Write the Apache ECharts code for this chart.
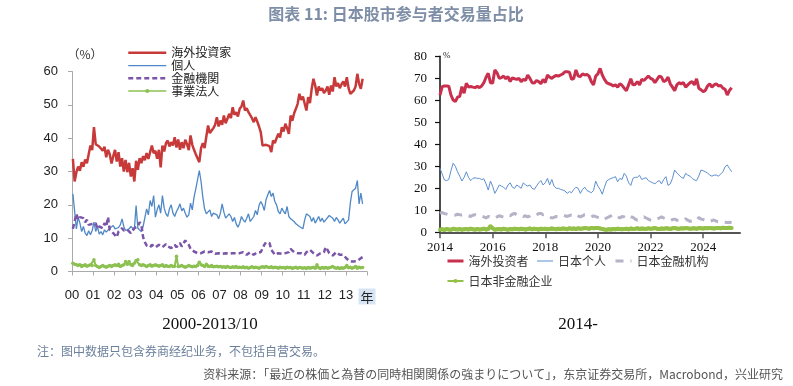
<!DOCTYPE html>
<html><head><meta charset="utf-8">
<script src="https://cdn.jsdelivr.net/npm/echarts@6/dist/echarts.min.js"></script>
<style>html,body{margin:0;padding:0;background:#fff}#c{width:793px;height:386px}</style>
</head><body><div id="c"></div>
<script>
// ---------- Left panel: 2000/01 - 2013/10, monthly ----------
var leftStartYear = 2000;
var leftYearTicks = [2000,2001,2002,2003,2004,2005,2006,2007,2008,2009,2010,2011,2012,2013,2014];
var leftNames = ['海外投資家','個人','金融機関','事業法人'];
var leftForeign = [
33.8,27.0,29.8,31.5,30.2,32.8,31.4,33.6,32.5,35.2,37.8,36.4,
43.3,38.2,38.6,37.5,38.0,36.2,37.4,34.3,36.5,35.2,32.4,34.6,
36.5,33.0,35.8,31.5,34.0,30.0,33.5,29.8,32.6,28.5,31.0,27.0,
33.2,30.5,34.0,32.5,34.6,33.4,35.5,33.8,35.8,37.8,35.5,36.2,
33.8,36.5,31.2,37.8,36.0,38.5,39.3,37.5,38.8,37.8,40.3,37.2,
39.6,36.5,38.8,37.0,39.5,38.2,36.4,40.8,38.0,36.5,35.2,34.0,
32.8,37.0,38.5,37.0,40.5,43.8,41.5,42.3,43.0,44.0,46.3,43.5,
45.3,44.0,46.8,44.5,45.8,47.3,46.0,49.3,47.0,47.8,46.5,48.8,
49.5,51.3,48.3,49.0,47.8,48.2,46.0,44.8,46.3,45.0,43.5,41.8,
37.8,37.5,38.0,37.4,37.6,35.8,39.3,38.5,40.0,41.3,40.2,43.3,
42.0,44.3,43.0,41.3,46.8,45.2,47.5,48.8,50.3,53.3,51.5,52.5,
52.0,48.3,52.3,50.5,54.8,57.8,55.8,52.8,55.5,54.3,55.0,53.5,
54.3,55.5,53.0,55.8,54.0,58.3,55.5,56.5,55.0,56.2,57.0,55.5,
58.3,55.0,53.3,52.8,54.3,55.5,59.3,56.3,54.8,57.8];
var leftIndividual = [
23.3,22.8,12.8,16.3,14.5,12.0,13.5,11.5,10.8,12.2,11.0,12.3,
14.8,12.0,13.5,11.2,12.0,11.0,12.5,11.8,12.2,13.0,12.5,13.8,
12.8,12.5,13.2,14.0,15.8,13.5,12.3,11.8,12.8,13.5,14.0,12.5,
19.8,13.0,12.8,12.0,13.5,14.0,18.8,17.0,21.3,19.5,22.8,16.3,
18.5,20.0,17.5,22.8,19.0,17.3,16.5,18.8,20.0,17.5,16.5,18.0,
19.0,20.3,18.2,19.0,17.5,16.3,17.0,20.5,18.5,22.3,24.8,25.0,
30.3,27.0,22.3,18.8,17.3,17.8,18.5,16.5,17.5,18.0,17.0,15.8,
17.5,20.3,17.8,16.0,15.5,17.3,16.5,15.0,16.2,14.3,13.3,14.5,
16.5,15.5,14.8,16.0,17.3,15.0,14.5,16.5,18.3,17.0,19.8,21.0,
20.0,18.3,21.5,23.0,24.3,22.5,23.5,21.0,20.0,18.0,17.3,19.0,
18.0,17.3,19.5,16.5,15.8,16.2,15.0,14.3,14.8,13.5,14.0,12.8,
15.5,17.3,17.0,16.5,15.0,16.2,14.5,14.0,16.5,15.0,16.0,14.8,
15.5,16.0,16.8,17.3,16.0,15.0,16.2,15.5,14.5,15.0,16.0,14.3,
14.3,15.5,20.5,24.0,23.5,25.0,27.3,20.3,23.5,20.3];
var leftFinancial = [
12.8,13.0,17.3,15.5,16.3,15.8,16.0,14.8,15.5,14.0,13.8,14.3,
13.8,14.5,12.8,13.5,14.0,13.0,14.5,13.5,16.3,12.5,12.0,11.5,
11.8,10.3,12.0,12.5,13.0,12.3,11.8,12.5,12.0,11.5,12.3,13.0,
12.5,13.5,14.8,14.0,10.3,8.8,7.8,7.5,7.3,8.0,7.5,7.2,
7.0,8.0,7.8,7.3,7.0,8.2,7.5,7.8,7.0,7.5,8.0,7.3,
7.8,8.5,7.5,8.0,9.3,9.0,8.0,6.8,6.5,6.0,5.8,5.5,
5.8,5.5,5.3,6.0,6.3,5.8,5.5,6.0,5.5,5.3,5.0,5.5,
5.8,5.3,5.0,5.5,5.0,5.3,5.8,5.5,5.0,5.5,6.0,5.5,
5.3,5.8,5.5,5.0,5.3,5.8,5.5,5.0,5.5,5.8,6.0,5.8,
5.5,8.0,8.8,9.0,8.5,6.5,5.8,5.0,5.3,5.5,5.8,5.3,
5.0,5.5,6.0,5.8,6.8,6.5,5.8,5.3,5.5,5.0,5.5,5.3,
5.0,5.8,6.0,6.5,6.0,5.5,5.0,4.8,5.0,5.5,6.0,5.8,
7.3,6.5,5.5,5.0,4.8,5.3,5.8,5.5,5.0,5.3,5.0,4.5,
3.8,3.5,3.0,2.8,3.0,2.8,3.2,3.5,4.0,4.3];
var leftCorporate = [
2.5,2.2,2.0,1.8,2.0,1.5,1.8,2.0,1.6,1.8,2.0,1.8,
3.5,1.8,1.5,1.2,1.5,1.8,1.5,1.3,1.6,1.8,1.5,1.8,
2.0,1.8,2.2,1.5,1.8,2.0,3.0,2.2,3.0,2.0,1.8,2.5,
3.3,3.5,2.0,1.8,2.0,1.8,1.5,1.8,2.0,1.6,1.8,2.0,
1.8,1.6,1.8,2.0,1.5,1.8,1.6,1.5,1.8,1.5,1.6,4.6,
1.5,1.6,1.8,1.5,1.3,1.5,1.8,1.6,1.4,1.6,1.5,1.8,
2.8,2.0,1.8,1.5,2.2,1.6,1.5,1.8,1.4,1.5,1.6,1.4,
1.5,1.3,1.4,1.2,1.5,1.3,1.2,1.4,1.3,1.5,1.2,1.3,
1.2,1.4,1.1,1.3,1.0,1.2,1.4,1.1,1.3,1.2,1.0,1.3,
1.4,1.2,1.5,1.3,1.2,1.4,1.1,1.3,1.2,1.0,1.3,1.1,
1.2,1.0,1.3,1.1,1.2,0.9,1.1,1.3,1.0,1.2,1.1,1.0,
1.1,0.9,1.2,1.0,1.1,1.3,1.0,2.0,1.1,0.9,1.2,1.0,
1.2,1.0,1.1,1.3,1.5,1.1,1.0,1.2,0.9,1.1,1.0,1.2,
1.8,1.1,1.3,1.0,1.2,1.5,1.0,1.3,1.1,1.2];

// ---------- Right panel: 2014/01 - 2025/02, monthly ----------
var rightStartYear = 2014;
var rightYearTicks = [2014,2016,2018,2020,2022,2024];
var rightNames = ['海外投资者','日本个人','日本金融机构','日本非金融企业'];
var rightForeign = [
62.4,66.2,66.5,66.5,66.4,62.4,60.1,59.4,61.4,61.8,66.2,63.2,
67.7,66.0,66.3,66.0,65.8,66.3,65.8,66.5,68.0,70.5,72.3,68.0,
67.8,73.8,72.5,70.0,70.3,71.0,69.8,70.8,68.5,70.2,69.8,69.5,
70.0,68.5,69.5,69.0,71.5,70.0,68.0,67.8,69.0,68.5,67.5,69.5,
68.0,71.5,70.5,70.0,70.8,71.3,71.0,71.5,72.0,73.0,73.0,72.8,
69.5,70.0,73.8,71.0,70.8,72.0,71.5,71.8,71.0,68.5,67.0,71.0,
72.0,74.5,71.5,69.5,68.0,67.5,67.2,66.5,67.0,66.0,67.5,66.8,
65.5,64.4,67.0,69.8,67.0,67.2,68.5,67.0,69.5,69.0,70.0,71.0,
70.0,69.5,68.0,69.5,71.0,70.5,68.5,69.0,70.5,67.5,66.0,64.4,
67.0,68.0,67.5,68.0,66.0,67.0,68.0,68.5,67.0,69.8,65.5,64.8,
63.9,64.5,66.5,67.5,66.0,67.0,67.5,66.5,66.8,65.5,65.0,62.4,
64.5,65.7];
var rightIndividual = [
29.1,26.5,23.8,23.5,24.0,28.0,31.4,30.0,27.5,25.5,23.3,25.0,
27.5,25.0,23.5,24.5,24.8,24.5,24.5,24.0,24.3,22.0,19.2,23.3,
21.0,17.7,19.5,21.5,21.0,20.5,19.5,21.5,22.5,20.5,20.0,21.5,
20.8,20.0,22.5,21.5,21.0,21.5,20.0,19.5,21.0,22.5,23.5,21.5,
22.5,24.5,21.5,24.0,21.0,20.0,20.0,19.5,19.2,18.8,17.7,18.5,
18.0,19.5,20.5,20.0,17.7,19.5,20.5,19.0,18.5,18.0,19.0,23.3,
21.0,19.5,17.3,20.5,23.3,24.0,24.5,24.8,25.3,23.0,24.5,24.0,
26.8,25.5,22.5,21.3,24.5,25.0,25.0,25.9,24.0,24.5,24.8,23.5,
23.0,22.5,22.0,23.0,23.5,22.0,24.0,25.3,21.3,22.0,24.5,28.3,
27.0,26.0,25.0,24.5,26.8,26.0,25.5,24.5,23.8,23.5,25.5,28.3,
28.0,27.5,27.0,26.0,25.5,26.0,26.0,25.5,26.5,27.5,29.8,30.6,
29.0,27.5];
var rightFinancial = [
8.6,9.0,8.5,8.3,8.0,8.2,8.0,7.8,8.2,8.0,7.9,8.3,
7.8,7.5,7.2,7.8,8.0,7.6,7.1,7.3,7.0,6.5,7.2,6.8,
7.1,6.5,7.0,7.5,7.2,6.8,7.5,7.8,7.5,8.2,8.6,8.0,
8.3,7.8,7.2,7.5,7.0,7.5,8.2,8.0,7.8,8.5,8.6,8.0,
8.2,7.5,7.0,6.5,6.8,7.2,7.0,7.5,7.8,7.5,7.2,7.6,
7.8,7.5,8.2,7.5,7.0,7.5,8.0,7.8,7.2,7.0,7.5,7.1,
6.8,6.5,5.6,6.0,6.5,7.0,7.5,8.2,7.5,7.0,6.5,7.2,
7.0,6.5,7.5,7.0,6.8,6.0,5.5,6.0,6.5,7.0,6.5,6.0,
5.5,5.2,5.8,6.0,6.5,7.0,6.5,6.0,5.5,5.2,5.8,6.0,
5.5,5.2,5.0,5.5,6.2,5.5,5.0,5.2,4.8,5.5,6.7,6.0,
5.8,5.2,5.5,5.0,5.3,5.6,5.0,4.8,5.2,4.8,4.6,4.4,
4.6,4.4];
var rightCorporate = [
1.2,1.4,1.1,1.5,1.3,1.2,1.6,1.4,1.3,1.5,1.2,1.4,
1.5,1.3,1.6,1.4,1.2,1.5,1.3,1.4,1.6,1.3,1.5,2.8,
1.8,1.2,1.4,1.5,1.3,1.6,1.4,1.2,1.5,1.4,1.6,1.5,
1.4,1.6,1.5,1.3,1.5,1.7,1.4,1.6,1.5,1.3,1.6,1.5,
1.6,1.4,1.5,1.7,1.5,1.4,1.6,1.5,1.7,1.6,1.4,1.8,
1.6,1.7,1.5,1.8,1.6,1.7,1.9,1.8,1.6,2.0,1.8,1.9,
2.0,1.7,1.5,1.3,1.2,1.4,1.3,1.5,1.4,1.6,1.5,1.4,
1.5,1.6,1.4,1.7,1.5,1.6,1.8,1.5,1.7,1.6,1.5,1.8,
1.6,1.7,1.9,1.6,1.5,1.7,1.6,1.8,1.7,1.5,1.8,1.9,
1.7,1.6,1.8,1.7,1.9,1.8,1.6,1.7,1.8,1.6,1.9,1.8,
1.7,1.9,1.8,2.0,1.8,1.7,1.9,2.0,1.8,2.1,1.9,2.0,
2.1,2.0];

function monthly(arr, startYear, offset) {
  return arr.map(function (v, i) { return [startYear + (i + offset) / 12, v]; });
}

var chart = echarts.init(document.getElementById('c'), null, {renderer: 'canvas'});
var serif = '"Liberation Serif","DejaVu Serif",serif';
var sansL = '"Liberation Sans",Arial,sans-serif';

var leftColors = ['#c83a3a', '#4f88c6', '#7a55a8', '#8cc152'];
var rightColors = ['#c8304e', '#5d8fd0', '#b8b2c8', '#93c047'];
var noSym = {opacity: 0, color: 'transparent', borderWidth: 0};

var option = {
  animation: false,
  backgroundColor: '#fff',
  grid: [
    {left: 72, top: 71.5, width: 295, height: 200},
    {left: 440, top: 56.3, width: 300, height: 176}
  ],
  xAxis: [
    {type: 'value', gridIndex: 0, min: 2000, max: 2014, interval: 1,
     axisLine: {lineStyle: {color: '#aaa', width: 1}},
     axisTick: {show: true, length: 4, lineStyle: {color: '#aaa'}, customValues: leftYearTicks},
     splitLine: {show: false},
     axisLabel: {margin: 17, fontSize: 13, color: '#222', fontFamily: sansL,
       customValues: leftYearTicks,
       formatter: function (v) { return v === 2014 ? '{y|年}' : String(v % 100).padStart(2, '0'); },
       rich: {y: {backgroundColor: '#d6e4f3', padding: [2, 2, 1, 2], fontSize: 13, color: '#222', fontFamily: '"Noto Sans CJK JP"'}}}
    },
    {type: 'value', gridIndex: 1, min: 2014, max: 2025.4, interval: 2,
     axisLine: {lineStyle: {color: '#555', width: 2}},
     axisTick: {show: true, length: 6, lineStyle: {color: '#555', width: 1.5}, customValues: rightYearTicks},
     splitLine: {show: false},
     axisLabel: {margin: 9, fontSize: 13, color: '#111', fontFamily: serif, customValues: rightYearTicks,
       formatter: function (v) { return String(v); }}
    }
  ],
  yAxis: [
    {type: 'value', gridIndex: 0, min: 0, max: 60, interval: 10,
     axisLine: {show: true, lineStyle: {color: '#aaa'}},
     axisTick: {show: true, length: 4, lineStyle: {color: '#aaa'}},
     splitLine: {show: false},
     axisLabel: {margin: 14, fontSize: 13, color: '#222', fontFamily: sansL}},
    {type: 'value', gridIndex: 1, min: 0, max: 80, interval: 10,
     axisLine: {show: true, lineStyle: {color: '#111', width: 1.5}},
     axisTick: {show: true, length: 5, lineStyle: {color: '#111', width: 1.2}},
     splitLine: {show: false},
     axisLabel: {margin: 13, fontSize: 13, color: '#111', fontFamily: serif}}
  ],
  legend: [
    {orient: 'vertical', left: 122, top: 41.5, itemWidth: 38, itemHeight: 5, itemGap: 0,
     textStyle: {fontSize: 12, color: '#222', fontFamily: '"Noto Sans CJK JP"', lineHeight: 12.7},
     data: [
       {name: leftNames[0], lineStyle: {width: 2.5}, itemStyle: noSym},
       {name: leftNames[1], lineStyle: {width: 1.3}, itemStyle: noSym},
       {name: leftNames[2], lineStyle: {width: 2.5}, itemStyle: noSym},
       {name: leftNames[3], lineStyle: {width: 1.5}}
     ]},
    {orient: 'horizontal', left: 441, top: 250, width: 296, itemWidth: 16, itemHeight: 5, itemGap: 8,
     textStyle: {fontSize: 12, color: '#333', fontFamily: '"Noto Sans CJK SC"', lineHeight: 12},
     data: [
       {name: rightNames[0], lineStyle: {width: 3}, itemStyle: noSym},
       {name: rightNames[1], lineStyle: {width: 1}, itemStyle: noSym},
       {name: rightNames[2], lineStyle: {width: 3}, itemStyle: noSym},
       {name: rightNames[3], lineStyle: {width: 2}}
     ]}
  ],
  series: [
    {name: leftNames[0], type: 'line', xAxisIndex: 0, yAxisIndex: 0, symbol: 'none',
     data: monthly(leftForeign, leftStartYear, 0.5), lineStyle: {color: leftColors[0], width: 2.5}, itemStyle: {color: leftColors[0]}},
    {name: leftNames[1], type: 'line', xAxisIndex: 0, yAxisIndex: 0, symbol: 'none',
     data: monthly(leftIndividual, leftStartYear, 0.5), lineStyle: {color: leftColors[1], width: 1.3}, itemStyle: {color: leftColors[1]}},
    {name: leftNames[2], type: 'line', xAxisIndex: 0, yAxisIndex: 0, symbol: 'none',
     data: monthly(leftFinancial, leftStartYear, 0.5), lineStyle: {color: leftColors[2], width: 2.5, type: [5, 3]}, itemStyle: {color: leftColors[2]}},
    {name: leftNames[3], type: 'line', xAxisIndex: 0, yAxisIndex: 0, symbol: 'circle', symbolSize: 3.5,
     data: monthly(leftCorporate, leftStartYear, 0.5), lineStyle: {color: leftColors[3], width: 2}, itemStyle: {color: leftColors[3]}},

    {name: rightNames[0], type: 'line', xAxisIndex: 1, yAxisIndex: 1, symbol: 'none',
     data: monthly(rightForeign, rightStartYear, 0), lineStyle: {color: rightColors[0], width: 3}, itemStyle: {color: rightColors[0]}},
    {name: rightNames[1], type: 'line', xAxisIndex: 1, yAxisIndex: 1, symbol: 'none',
     data: monthly(rightIndividual, rightStartYear, 0), lineStyle: {color: rightColors[1], width: 1}, itemStyle: {color: rightColors[1]}},
    {name: rightNames[2], type: 'line', xAxisIndex: 1, yAxisIndex: 1, symbol: 'none',
     data: monthly(rightFinancial, rightStartYear, 0), lineStyle: {color: rightColors[2], width: 3, type: [8, 7]}, itemStyle: {color: rightColors[2]}},
    {name: rightNames[3], type: 'line', xAxisIndex: 1, yAxisIndex: 1, symbol: 'circle', symbolSize: 4,
     data: monthly(rightCorporate, rightStartYear, 0), lineStyle: {color: rightColors[3], width: 4}, itemStyle: {color: rightColors[3]}}
  ],
  graphic: [
    {type: 'text', x: 396, y: 14, style: {text: '图表 11: 日本股市参与者交易量占比', font: 'bold 16px "Noto Sans CJK SC"', fill: '#7d8ea6', textAlign: 'center', textVerticalAlign: 'middle'}},
    {type: 'text', x: 85, y: 54, style: {text: '（%）', font: '12px "Noto Sans CJK JP"', fill: '#333', textAlign: 'center', textVerticalAlign: 'middle'}},
    {type: 'text', x: 443, y: 56, style: {text: '%', font: '9px ' + serif, fill: '#222', textAlign: 'left', textVerticalAlign: 'middle'}},
    {type: 'text', x: 210, y: 325, style: {text: '2000-2013/10', font: '17px ' + serif, fill: '#111', textAlign: 'center', textVerticalAlign: 'middle'}},
    {type: 'text', x: 578, y: 325, style: {text: '2014-', font: '17px ' + serif, fill: '#111', textAlign: 'center', textVerticalAlign: 'middle'}},
    {type: 'text', x: 37, y: 351, style: {text: '注：图中数据只包含券商经纪业务，不包括自营交易。', font: '12px "Noto Sans CJK SC"', fill: '#6c809c', textAlign: 'left', textVerticalAlign: 'middle'}},
    {type: 'text', x: 783, y: 374, style: {text: '资料来源：「最近の株価と為替の同時相関関係の強まりについて」，东京证券交易所，Macrobond，兴业研究', font: '12px "Noto Sans CJK SC"', fill: '#555', textAlign: 'right', textVerticalAlign: 'middle'}}
  ]
};
chart.setOption(option);
</script></body></html>
